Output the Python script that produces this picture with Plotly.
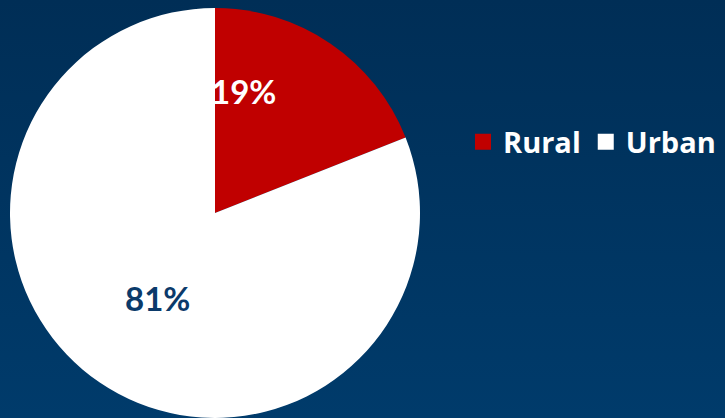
import base64
import plotly.graph_objects as go

categories = ["Rural", "Urban"]
values = [19, 81]
colors = ["#C00000", "#FFFFFF"]
label_colors = ["#FFFFFF", "#0B3A6A"]

W, H = 725, 418
total = sum(values)

svg = (
    '<svg xmlns="http://www.w3.org/2000/svg" width="725" height="418">'
    '<defs><linearGradient id="g" x1="0" y1="0" x2="0" y2="1">'
    '<stop offset="0" stop-color="#002E56"/><stop offset="1" stop-color="#003B6B"/>'
    '</linearGradient></defs><rect width="725" height="418" fill="url(#g)"/></svg>'
)
bg_uri = "data:image/svg+xml;base64," + base64.b64encode(svg.encode()).decode()

fig = go.Figure()
fig.add_trace(go.Pie(
    labels=categories, values=values, sort=False, direction="clockwise", rotation=0,
    marker=dict(colors=colors, line=dict(width=0)),
    textinfo="none", hoverinfo="label+percent", showlegend=False,
    domain=dict(x=[10 / W, 420 / W], y=[0, 1 - 8 / H]),
))
for c, col in zip(categories, colors):
    fig.add_trace(go.Scatter(
        x=[None], y=[None], mode="markers", name=c,
        marker=dict(symbol="square", size=16, color=col),
        showlegend=True,
    ))

label_pos = [(243 / W, 1 - 91 / H), (157 / W, 1 - 298 / H)]
for v, (x, y), lc in zip(values, label_pos, label_colors):
    fig.add_annotation(
        x=x, y=y, xref="paper", yref="paper", showarrow=False,
        text=f"<b>{v / total:.0%}</b>",
        font=dict(family="Lato", size=33, color=lc),
        xanchor="center", yanchor="middle",
    )

fig.update_layout(
    width=W, height=H, margin=dict(l=0, r=0, t=0, b=0),
    paper_bgcolor="#003562", plot_bgcolor="rgba(0,0,0,0)",
    images=[dict(source=bg_uri, xref="paper", yref="paper", x=0, y=1,
                 sizex=1, sizey=1, xanchor="left", yanchor="top",
                 sizing="stretch", layer="below")],
    xaxis=dict(visible=False), yaxis=dict(visible=False),
    legend=dict(orientation="h", x=463 / W, y=1 - 142 / H, xanchor="left", yanchor="middle",
                font=dict(family="Open Sans", size=29, color="#FFFFFF", weight="bold"),
                bgcolor="rgba(0,0,0,0)", itemwidth=30, tracegroupgap=0),
)

fig.write_html("out.html", config={"displayModeBar": False},
               post_script="document.body.style.margin='0';")
